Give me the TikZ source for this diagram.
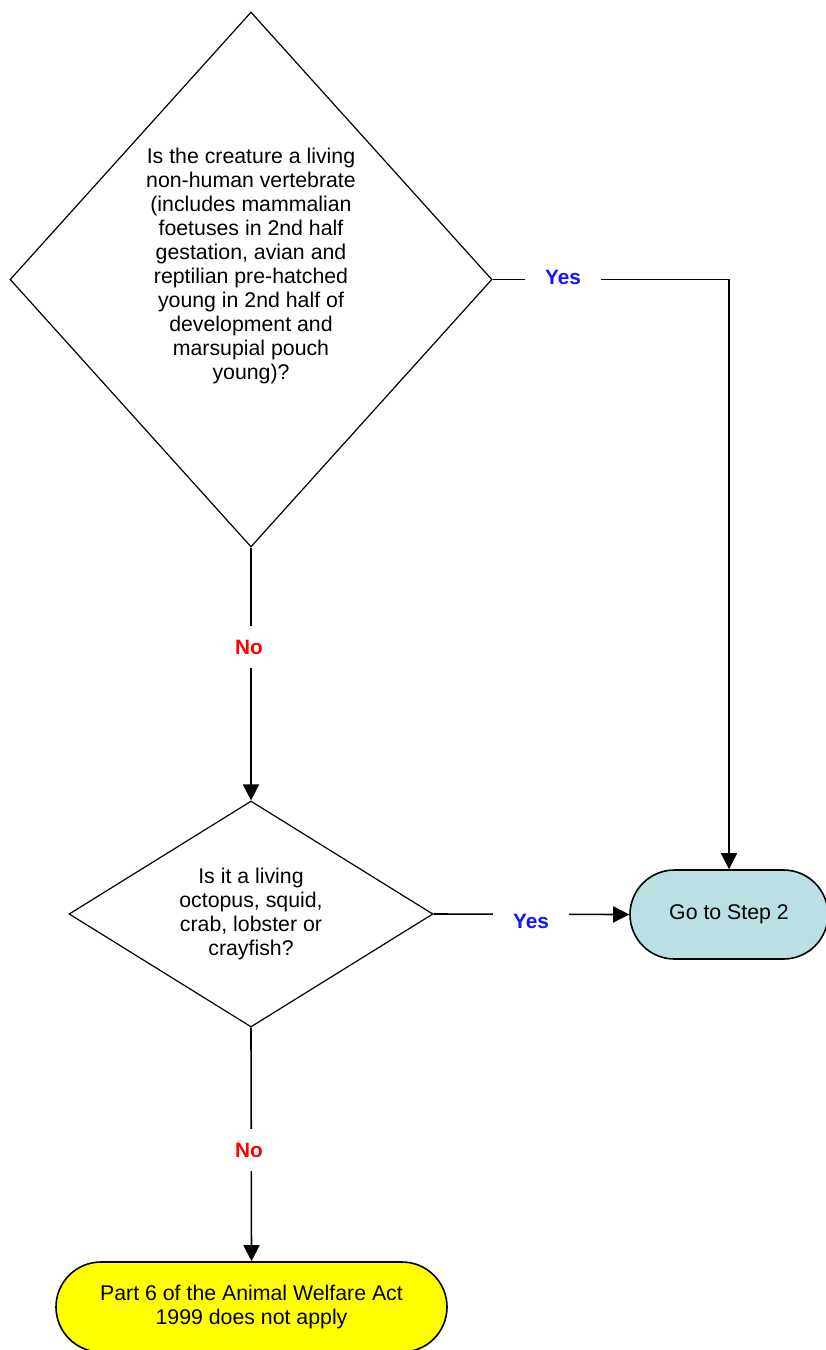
\documentclass[tikz,border=0pt]{standalone}
\usepackage{fontspec}
\setmainfont{Liberation Sans}
\usetikzlibrary{shapes,arrows.meta,positioning,calc}
\definecolor{stepblue}{RGB}{187,224,227}
\definecolor{endyellow}{RGB}{255,255,0}
\definecolor{yesblue}{RGB}{20,20,255}
\definecolor{nored}{RGB}{255,0,0}

\begin{document}
\begin{tikzpicture}[x=1pt, y=-1pt,
    every node/.style={font=\fontsize{21.3}{24}\selectfont, align=center},
    decision/.style={diamond, draw, line width=1.2pt, inner sep=0pt},
    terminal/.style={rounded rectangle, draw, line width=1.6pt, inner sep=0pt},
    flow/.style={line width=1.6pt, -{Triangle[length=16pt, width=16pt]}},
    answer/.style={fill=white, inner xsep=20pt, inner ysep=14pt,
        font=\fontsize{20.8}{24}\selectfont\bfseries}]
    \useasboundingbox (0,0) rectangle (826,1350);

    % Questions
    \node[decision, minimum width=482pt, minimum height=535pt] (vertebrate) at (251, 279.5)
        {Is the creature a living\\non-human vertebrate\\(includes mammalian\\foetuses in 2nd half\\gestation, avian and\\reptilian pre-hatched\\young in 2nd half of\\development and\\marsupial pouch\\young)?\\[8pt]\mbox{}};
    \node[decision, aspect=1.6, minimum width=364pt, minimum height=226pt] (crustacean) at (251, 914)
        {Is it a living\\octopus, squid,\\crab, lobster or\\crayfish?};

    % Outcomes
    \node[terminal, fill=stepblue, minimum width=198pt, minimum height=89pt] (steptwo) at (729, 914.5)
        {Go to Step 2};
    \node[terminal, fill=endyellow, minimum width=391pt, minimum height=90pt] (noapply) at (251.5, 1307)
        {Part 6 of the Animal Welfare Act\\1999 does not apply};

    % Connectors
    \draw[flow] (vertebrate.east) -| (steptwo.north);
    \draw[flow] (vertebrate.south) -- (crustacean.north);
    \draw[flow] (crustacean.east) -- (steptwo.west);
    \draw[flow] (crustacean.south) -- (noapply.north);

    % Answers
    \node[answer, text=yesblue] (yesone) at (563, 277) {Yes};
    \node[answer, text=nored] (noone) at (249, 647) {No};
    \node[answer, text=yesblue] (yestwo) at (531, 921) {Yes};
    \node[answer, text=nored] (notwo) at (249, 1150) {No};

\end{tikzpicture}
\end{document}
